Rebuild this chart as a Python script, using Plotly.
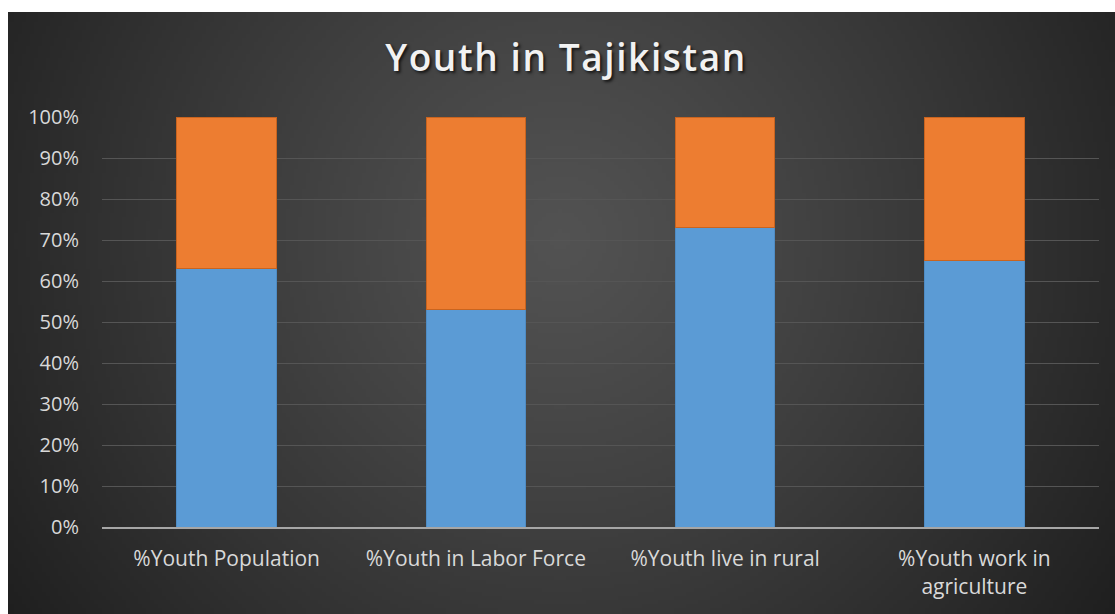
import base64, struct, zlib, math
import plotly.graph_objects as go

categories = ["%Youth Population", "%Youth in Labor Force", "%Youth live in rural", "%Youth work in<br>agriculture"]
series_a = [63, 53, 73, 65]
series_b = [37, 47, 27, 35]
tick_vals = [0, 10, 20, 30, 40, 50, 60, 70, 80, 90, 100]
tick_text = [f"{v}%" for v in tick_vals]

W, H = 1115, 614
L, R, T, B = 102, 16, 117, 87
PW, PH = W - L - R, H - T - B
BX0, BY0 = 8, 12  # dark background origin


def make_png(w, h, fn):
    raw = bytearray()
    for j in range(h):
        raw.append(0)
        for i in range(w):
            raw.extend(fn(i, j))
    def chunk(tag, data):
        c = struct.pack(">I", len(data)) + tag + data
        return c + struct.pack(">I", zlib.crc32(tag + data) & 0xffffffff)
    png = b"\x89PNG\r\n\x1a\n"
    png += chunk(b"IHDR", struct.pack(">IIBBBBB", w, h, 8, 2, 0, 0, 0))
    png += chunk(b"IDAT", zlib.compress(bytes(raw), 9))
    png += chunk(b"IEND", b"")
    return "data:image/png;base64," + base64.b64encode(png).decode()


gw, gh = 277, 151
bw, bh = W - BX0, H - BY0
cx, cy = 560 - BX0, 240 - BY0
c0, c1 = 0x52, 0x1d
RMAX = 690.0


def grad(i, j):
    x = (i + 0.5) / gw * bw
    y = (j + 0.5) / gh * bh
    t = min(1.0, math.hypot(x - cx, y - cy) / RMAX)
    t = t ** 1.15
    v = int(round(c0 + (c1 - c0) * t))
    return (v, v, v)


bg = make_png(gw, gh, grad)

fig = go.Figure()
fig.add_trace(go.Bar(x=categories, y=series_a, width=0.4,
                     marker=dict(color="#5B9BD5", line=dict(color="#4F8CC4", width=1)),
                     hoverinfo="skip"))
fig.add_trace(go.Bar(x=categories, y=series_b, width=0.4,
                     marker=dict(color="#ED7D31", line=dict(color="#C9641F", width=1)),
                     hoverinfo="skip"))

fig.update_layout(
    barmode="stack",
    width=W, height=H,
    margin=dict(l=L, r=R, t=T, b=B),
    paper_bgcolor="white",
    plot_bgcolor="rgba(0,0,0,0)",
    showlegend=False,
    title=dict(text="Youth in Tajikistan", x=566 / W, xref="container", xanchor="center",
               y=1 - 58 / H, yref="container", yanchor="middle",
               font=dict(family="Open Sans", size=37, weight=600, color="#F2F2F2",
                         shadow="2px 2px 3px rgba(0,0,0,0.7)")),
    font=dict(family="Open Sans", size=21, color="#D9D9D9"),
    images=[dict(source=bg, xref="paper", yref="paper",
                 x=(BX0 - L) / PW, y=(H - B - BY0) / PH,
                 sizex=bw / PW, sizey=bh / PH,
                 xanchor="left", yanchor="top", sizing="stretch", layer="below")],
    xaxis=dict(showgrid=False, showline=True, linecolor="#A6A6A6", linewidth=2,
               ticks="", tickfont=dict(size=21, color="#D9D9D9"), ticklabelstandoff=12,
               fixedrange=True),
    yaxis=dict(range=[0, 100], tickvals=tick_vals, ticktext=tick_text,
               showgrid=True, gridcolor="#555555", gridwidth=1, zeroline=False,
               showline=False, ticks="", ticklabelstandoff=22,
               tickfont=dict(size=20, color="#D9D9D9"), fixedrange=True),
)

post = """
try {
  var t = document.querySelectorAll('.gtitle');
  t.forEach(function(el){ el.style.letterSpacing = '1.6px'; });
} catch (e) {}
"""

fig.write_html("out.html", config={"displayModeBar": False}, post_script=post)
